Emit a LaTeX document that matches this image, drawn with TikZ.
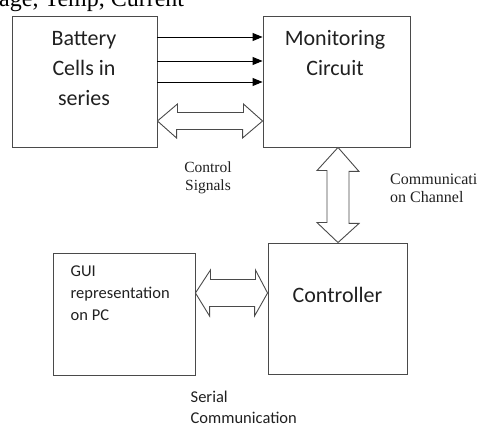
\documentclass[tikz,border=0pt]{standalone}
\usepackage{fontspec}
\setmainfont{Liberation Serif}
\newfontfamily\calibri{Carlito}
\usetikzlibrary{arrows.meta}

\definecolor{boxgray}{HTML}{4A4A4A}
\definecolor{txtdark}{HTML}{202020}

\tikzset{
    blockbox/.style={draw=boxgray, line width=0.9pt, inner sep=0pt},
    bigtext/.style={font=\calibri\fontsize{22}{30}\selectfont, text=txtdark, align=center, inner sep=0pt},
    smalltext/.style={font=\calibri\fontsize{16.5}{22}\selectfont, text=txtdark, align=left, inner sep=0pt},
    serifnote/.style={font=\fontsize{15.5}{18}\selectfont, text=txtdark, inner sep=0pt},
    sig/.style={line width=0.9pt, -{Triangle[length=10pt, width=8pt]}},
    blockarrow/.style={draw=boxgray, fill=white, line width=0.9pt, line join=miter}
}

\begin{document}
\begin{tikzpicture}[x=1pt, y=-1pt]
    \useasboundingbox (0,0) rectangle (484,430);

    % --- Titre coupé en haut ---
    \node[font=\fontsize{24}{28}\selectfont, anchor=base west, inner sep=0pt] (title) at (-1,7) {age, Temp, Current};

    % --- Blocs ---
    \node[blockbox, minimum width=145pt, minimum height=131pt] (batt) at (84.5,81.5) {};
    \node[blockbox, minimum width=147pt, minimum height=131pt] (mon) at (336.5,81.5) {};
    \node[blockbox, minimum width=142pt, minimum height=122pt] (gui) at (124,314) {};
    \node[blockbox, minimum width=139pt, minimum height=131pt] (ctrl) at (337.5,308.5) {};

    % --- Textes des blocs (base = dernière ligne) ---
    \node[bigtext, anchor=base] (batttxt) at (84,105.5) {Battery\\Cells in\\series};
    \node[bigtext, anchor=base] (montxt) at (335,75.5) {Monitoring\\Circuit};
    \node[bigtext, anchor=base] (ctrltxt) at (337.5,302) {Controller};
    \node[smalltext, anchor=base west] (guitxt) at (70.5,320) {GUI\\representation\\on PC};

    % --- Mesures vers le circuit ---
    \draw[sig] (batt.east |- 0,37) -- (mon.west |- 0,37);
    \draw[sig] (batt.east |- 0,61) -- (mon.west |- 0,61);
    \draw[sig] (batt.east |- 0,82) -- (mon.west |- 0,82);

    % --- Signaux de commande ---
    \draw[blockarrow] (batt.east |- 0,121) -- ++(20,-17) -- ++(0,8.5) -- ++(66,0) -- ++(0,-8.5)
        -- (mon.west |- 0,121) -- ++(-20,17) -- ++(0,-8.5) -- ++(-66,0) -- ++(0,8.5) -- cycle;
    \node[serifnote, align=center, anchor=base] (ctrllbl) at (208,190.5) {Control\\Signals};

    % --- Canal de communication ---
    \draw[blockarrow] (338,0 |- mon.south) -- ++(21,24) -- ++(-10,0) -- ++(0,52) -- ++(10,0)
        -- (338,0 |- ctrl.north) -- ++(-21,-20) -- ++(10,0) -- ++(0,-52) -- ++(-10,0) -- cycle;
    \node[serifnote, font=\fontsize{16}{18}\selectfont, align=left, anchor=base west] (commlbl) at (390,203) {Communicati\\on Channel};

    % --- Liaison série ---
    \draw[blockarrow] (gui.east |- 0,293) -- ++(15,-23) -- ++(0,9.5) -- ++(45,0) -- ++(0,-9.5)
        -- (ctrl.west |- 0,293) -- ++(-13,23) -- ++(0,-9.5) -- ++(-45,0) -- ++(0,9.5) -- cycle;
    \node[smalltext, font=\calibri\fontsize{16.5}{21}\selectfont, anchor=base west] (seriallbl) at (190.5,423) {Serial\\Communication};
\end{tikzpicture}
\end{document}
